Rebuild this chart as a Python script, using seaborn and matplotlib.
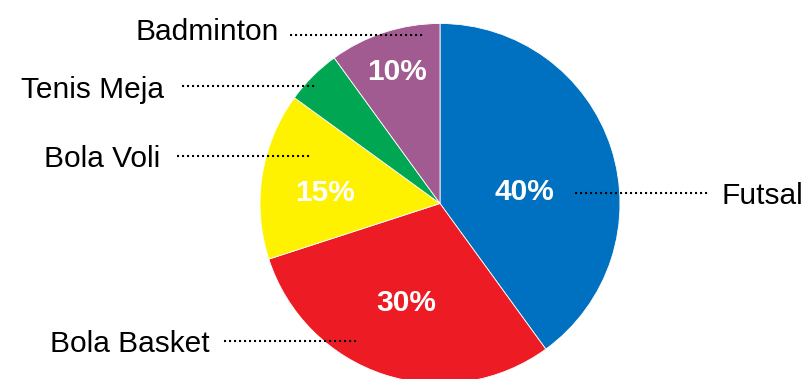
import matplotlib
matplotlib.use("Agg")
import matplotlib.pyplot as plt
import numpy as np
import seaborn as sns

# Sports preference shares (percent)
sports = ["Futsal", "Bola Basket", "Bola Voli", "Tenis Meja", "Badminton"]
shares = [40, 30, 15, 5, 10]
pct_labels = ["40%", "30%", "15%", "", "10%"]
colors = ["#0070C0", "#ED1C24", "#FFF200", "#00A651", "#A25B91"]

sns.set_theme(style="white")
plt.rcParams["font.family"] = ["Liberation Sans", "DejaVu Sans"]

W, H, DPI = 807, 379, 100
fig = plt.figure(figsize=(W / DPI, H / DPI), dpi=DPI)
ax = fig.add_axes([0, 0, 1, 1])

# pixel layout helpers: pie centre and radius in pixels
CX, CY, R = 440.0, 203.5, 180.0


def to_data(px, py):
    return (px - CX) / R, (CY - py) / R


wedges, _ = ax.pie(
    shares,
    colors=colors,
    startangle=90,
    counterclock=False,
    radius=1.0,
    wedgeprops=dict(edgecolor="white", linewidth=0.6),
)

# percentage labels inside the wedges
pct_radius = [0.472, 0.574, 0.643, 0.0, 0.779]
pct_angle_shift = [-9.5, -1.2, 2.8, 0, 0]
for w, lab, rr, sh in zip(wedges, pct_labels, pct_radius, pct_angle_shift):
    if not lab:
        continue
    ang = np.deg2rad((w.theta1 + w.theta2) / 2 + sh)
    ax.text(rr * np.cos(ang), rr * np.sin(ang) - 1.5 / R, lab, color="white",
            fontsize=21.5, fontweight="bold", ha="center", va="center")

# dotted leader lines and category names
leaders = {
    "Badminton": ((290, 423, 34.5), (279, 40, "right")),
    "Tenis Meja": ((182, 316, 86), (164, 98, "right")),
    "Bola Voli": ((177, 311, 156), (160, 167, "right")),
    "Futsal": ((575, 709, 193), (722, 204, "left")),
    "Bola Basket": ((224, 357, 341), (210, 352, "right")),
}
for name in sports:
    (x0, x1, y), (tx, ty, ha) = leaders[name]
    a = to_data(x0, y)
    b = to_data(x1, y)
    ax.plot([a[0], b[0]], [a[1], b[1]], color="black", linewidth=1.5,
            linestyle=(0, (1, 1.4)), solid_capstyle="butt",
            dash_capstyle="butt")
    t = to_data(tx, ty)
    ax.text(t[0], t[1], name, fontsize=21.5, color="black", ha=ha,
            va="baseline")

ax.set_xlim(-CX / R, (W - CX) / R)
ax.set_ylim((CY - H) / R, CY / R)
ax.set_aspect("equal")
ax.axis("off")

fig.savefig("out.png", dpi=DPI, facecolor="white")
